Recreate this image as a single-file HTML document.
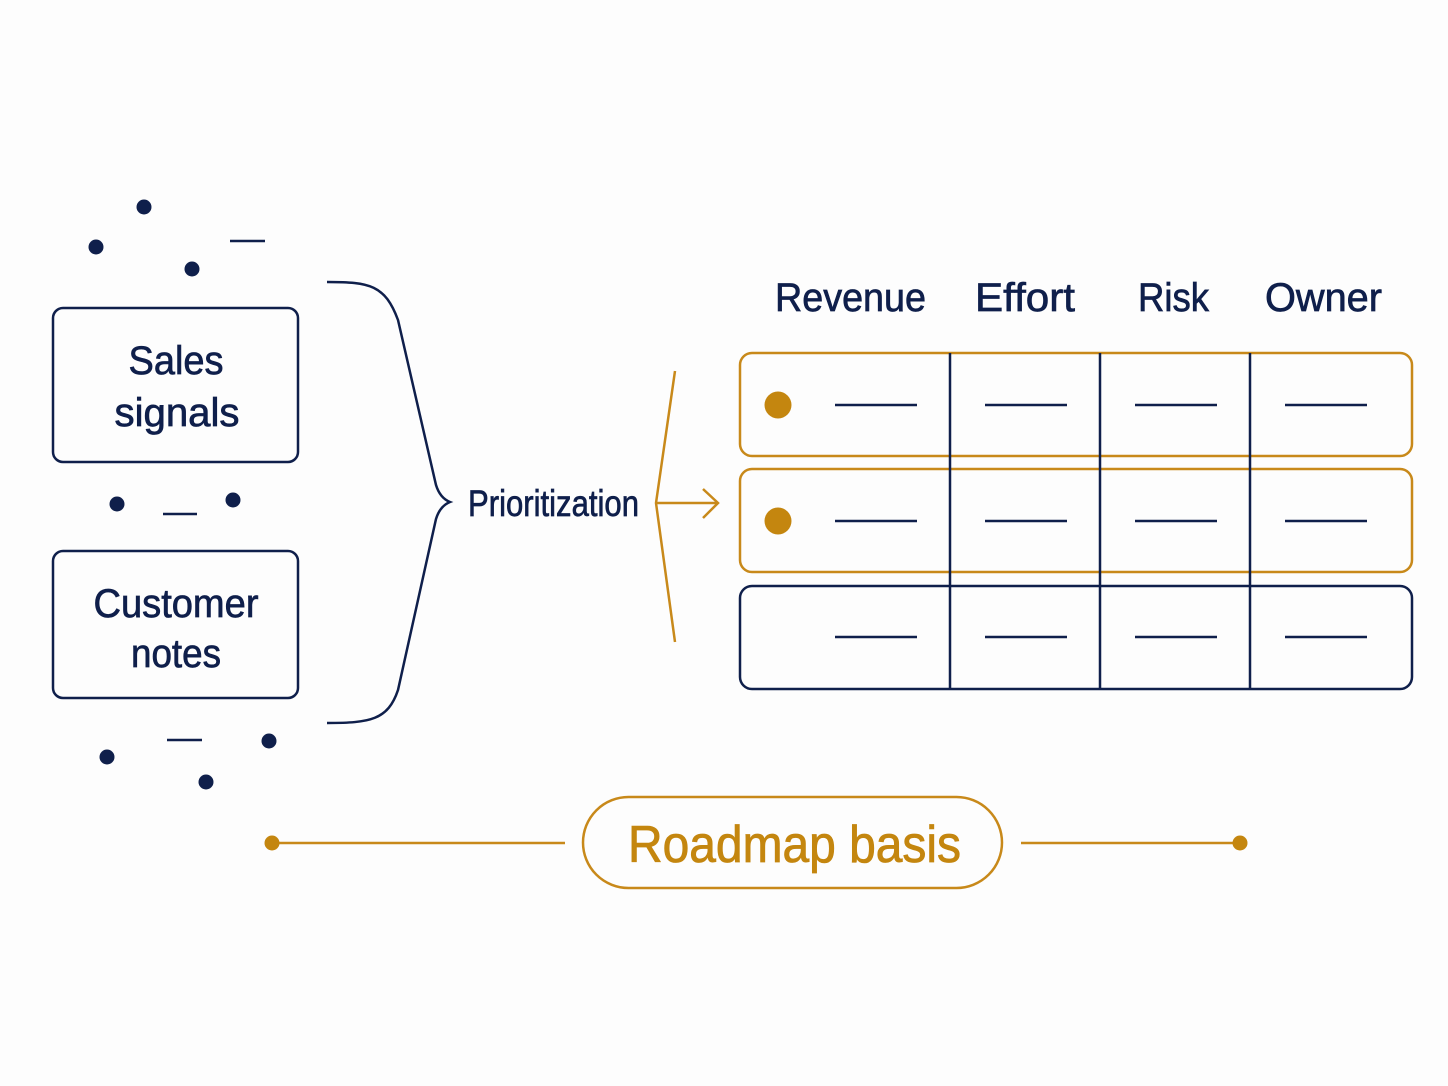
<!DOCTYPE html>
<html><head><meta charset="utf-8"><style>
html,body{margin:0;padding:0;background:#fdfdfd;}
svg{display:block;}
text{font-family:"Liberation Sans",sans-serif;}
</style></head><body>
<svg width="1448" height="1086" viewBox="0 0 1448 1086" xmlns="http://www.w3.org/2000/svg">
<rect width="1448" height="1086" fill="#fdfdfd"/>
<g fill="#0f1f4b">
<circle cx="144" cy="207" r="7.5"/><circle cx="96" cy="247" r="7.5"/><circle cx="192" cy="269" r="7.5"/>
<circle cx="117" cy="504" r="7.5"/><circle cx="233" cy="500" r="7.5"/>
<circle cx="269" cy="741" r="7.5"/><circle cx="107" cy="757" r="7.5"/><circle cx="206" cy="782" r="7.5"/>
</g>
<g stroke="#0f1f4b" stroke-width="2.5" fill="none">
<line x1="230" y1="241" x2="265" y2="241"/>
<line x1="163" y1="514" x2="197" y2="514"/>
<line x1="167" y1="740" x2="202" y2="740"/>
<rect x="53" y="308" width="245" height="154" rx="10"/>
<rect x="53" y="551" width="245" height="147" rx="10"/>
<path d="M327 282 C370 282 385 285 398 320 L436 485 Q440 498 450 502 Q440 506 436 519 L398 690 C388 720 370 723 327 723"/>
</g>
<g fill="#0f1f4b" stroke="#0f1f4b" stroke-width="0.7" font-size="40">
<text x="176" y="374" text-anchor="middle" textLength="95" lengthAdjust="spacingAndGlyphs">Sales</text>
<text x="177" y="426" text-anchor="middle" textLength="125" lengthAdjust="spacingAndGlyphs">signals</text>
<text x="176" y="617" text-anchor="middle" textLength="165" lengthAdjust="spacingAndGlyphs">Customer</text>
<text x="176" y="667" text-anchor="middle" textLength="90" lengthAdjust="spacingAndGlyphs">notes</text>
<text x="775" y="311" textLength="151" lengthAdjust="spacingAndGlyphs">Revenue</text>
<text x="975" y="311" textLength="100" lengthAdjust="spacingAndGlyphs">Effort</text>
<text x="1138" y="311" textLength="71" lengthAdjust="spacingAndGlyphs">Risk</text>
<text x="1265" y="311" textLength="117" lengthAdjust="spacingAndGlyphs">Owner</text>
<text x="468" y="516" font-size="37" textLength="171" lengthAdjust="spacingAndGlyphs">Prioritization</text>
</g>
<g stroke="#c8891a" stroke-width="2.5" fill="none">
<path d="M675 371 L656 503 L675 642"/>
<path d="M656 503 L718 503 M703 489 L718 503 L703 518"/>
<rect x="740" y="353" width="672" height="103" rx="12"/>
<rect x="740" y="469" width="672" height="103" rx="12"/>
<rect x="583" y="797" width="419" height="91" rx="45.5"/>
<line x1="272" y1="843" x2="565" y2="843"/>
<line x1="1021" y1="843" x2="1240" y2="843"/>
</g>
<g stroke="#0f1f4b" stroke-width="2.5" fill="none">
<rect x="740" y="586" width="672" height="103" rx="12"/>
<line x1="950" y1="353" x2="950" y2="689"/>
<line x1="1100" y1="353" x2="1100" y2="689"/>
<line x1="1250" y1="353" x2="1250" y2="689"/>
<path d="M835 405H917M985 405H1067M1135 405H1217M1285 405H1367"/>
<path d="M835 521H917M985 521H1067M1135 521H1217M1285 521H1367"/>
<path d="M835 637H917M985 637H1067M1135 637H1217M1285 637H1367"/>
</g>
<g fill="#c4860f">
<circle cx="778" cy="405" r="13.5"/><circle cx="778" cy="521" r="13.5"/>
<circle cx="272" cy="843" r="7.5"/><circle cx="1240" cy="843" r="7.5"/>
</g>
<text x="628" y="862" font-size="52" fill="#c4860f" stroke="#c4860f" stroke-width="0.8" textLength="333" lengthAdjust="spacingAndGlyphs">Roadmap basis</text>
</svg>
</body></html>
